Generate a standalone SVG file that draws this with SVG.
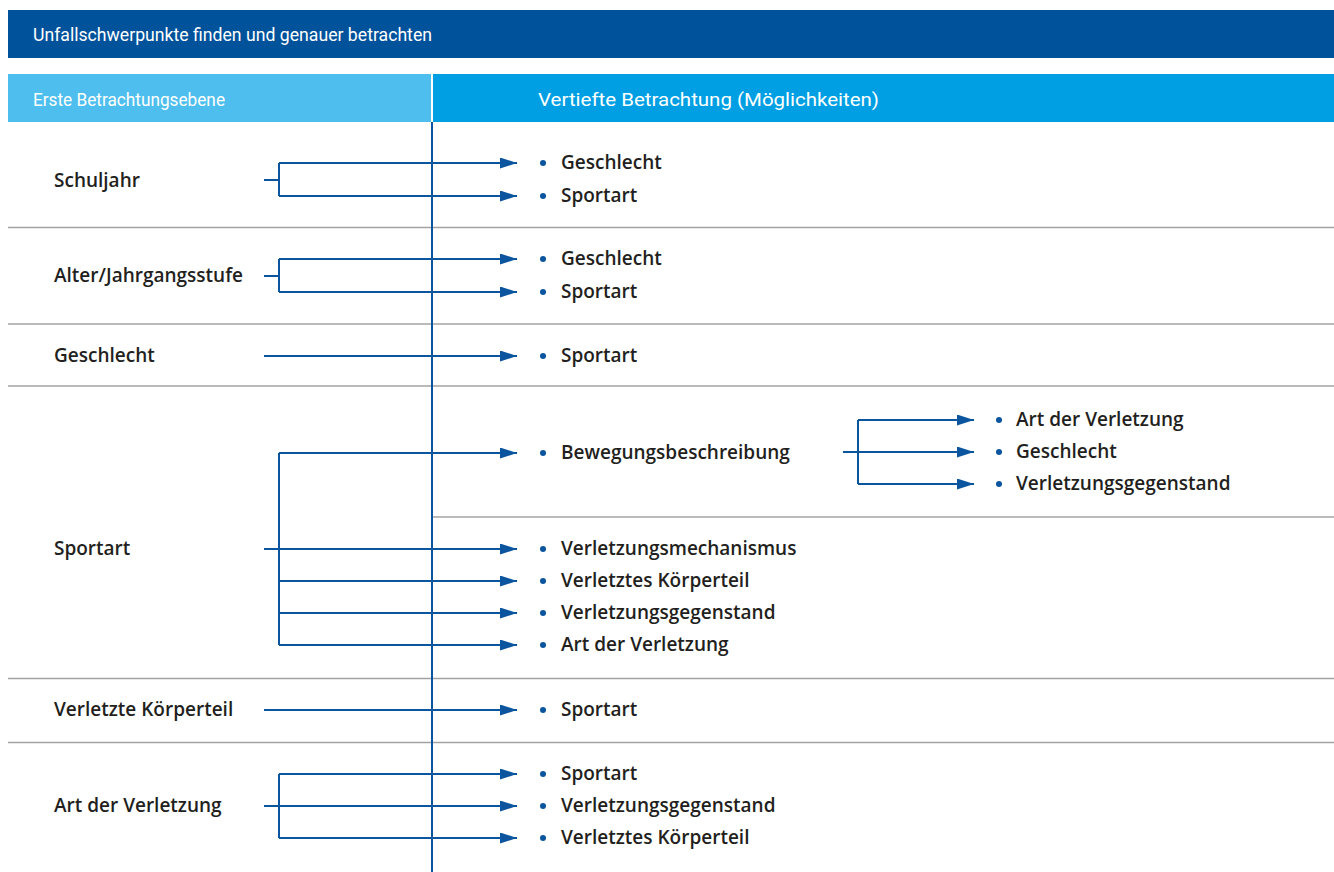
<svg xmlns="http://www.w3.org/2000/svg" width="1334" height="872" viewBox="0 0 1334 872">
<style>
.t{font-family:"Open Sans","Liberation Sans",sans-serif;font-weight:600;font-size:19px;fill:#231f20}
.h{font-family:Roboto,"Liberation Sans",sans-serif;font-weight:400;font-size:18px;fill:#ffffff}
.c{fill:none;stroke:#0b559f;stroke-width:2}
.a{marker-end:url(#arr)}
.sep{stroke:#a3a3a3;stroke-width:1.6}
.b{fill:#0b559f}
</style>
<defs>
<marker id="arr" markerUnits="userSpaceOnUse" markerWidth="18" markerHeight="12" refX="17" refY="5.5" orient="auto">
<path d="M0,0 L17,5.5 L0,11 z" fill="#0b559f"/>
</marker>
</defs>
<rect width="1334" height="872" fill="#ffffff"/>
<g id="header">
<rect x="8" y="10" width="1326" height="48" fill="#00529b"/>
<text class="h" x="33" y="41" textLength="399" lengthAdjust="spacingAndGlyphs">Unfallschwerpunkte finden und genauer betrachten</text>
</g>
<g id="colheads">
<rect x="8" y="74" width="423" height="48" fill="#4dbeed"/>
<rect x="433" y="74" width="901" height="48" fill="#009fe3"/>
<text class="h" x="33" y="106" textLength="192" lengthAdjust="spacingAndGlyphs">Erste Betrachtungsebene</text>
<text class="h" x="538" y="106" font-size="19.5" textLength="341" lengthAdjust="spacingAndGlyphs">Vertiefte Betrachtung (Möglichkeiten)</text>
</g>
<g id="separators">
<line class="sep" x1="8" y1="227.5" x2="1334" y2="227.5"/>
<line class="sep" x1="8" y1="324" x2="1334" y2="324"/>
<line class="sep" x1="8" y1="386" x2="1334" y2="386"/>
<line class="sep" x1="432" y1="517" x2="1334" y2="517"/>
<line class="sep" x1="8" y1="678.5" x2="1334" y2="678.5"/>
<line class="sep" x1="8" y1="742.5" x2="1334" y2="742.5"/>
</g>
<g id="connectors">
<line class="c" x1="432" y1="122" x2="432" y2="872"/>
<path class="c" d="M264,180 H279"/>
<path class="c" d="M279,163 V196"/>
<path class="c a" d="M279,163 H517"/>
<path class="c a" d="M279,196 H517"/>
<path class="c" d="M264,276 H279"/>
<path class="c" d="M279,259 V292"/>
<path class="c a" d="M279,259 H517"/>
<path class="c a" d="M279,292 H517"/>
<path class="c a" d="M264,356 H517"/>
<path class="c" d="M279,453 V645"/>
<path class="c a" d="M279,453 H517"/>
<path class="c a" d="M264,549 H517"/>
<path class="c a" d="M279,581 H517"/>
<path class="c a" d="M279,613 H517"/>
<path class="c a" d="M279,645 H517"/>
<path class="c" d="M858,420 V484"/>
<path class="c a" d="M858,420 H974"/>
<path class="c a" d="M843,452 H974"/>
<path class="c a" d="M858,484 H974"/>
<path class="c a" d="M264,710 H517"/>
<path class="c" d="M279,774 V838"/>
<path class="c a" d="M279,774 H517"/>
<path class="c a" d="M264,806 H517"/>
<path class="c a" d="M279,838 H517"/>
</g>
<g id="n-schuljahr">
<text class="t" x="54" y="187">Schuljahr</text>
<circle class="b" cx="543" cy="163" r="3"/><text class="t" x="561" y="169">Geschlecht</text>
<circle class="b" cx="543" cy="196" r="3"/><text class="t" x="561" y="202">Sportart</text>
</g>
<g id="n-alter">
<text class="t" x="54" y="282">Alter/Jahrgangsstufe</text>
<circle class="b" cx="543" cy="259" r="3"/><text class="t" x="561" y="265">Geschlecht</text>
<circle class="b" cx="543" cy="292" r="3"/><text class="t" x="561" y="298">Sportart</text>
</g>
<g id="n-geschlecht">
<text class="t" x="54" y="362">Geschlecht</text>
<circle class="b" cx="543" cy="356" r="3"/><text class="t" x="561" y="362">Sportart</text>
</g>
<g id="n-sportart">
<text class="t" x="54" y="555">Sportart</text>
<circle class="b" cx="543" cy="453" r="3"/><text class="t" x="561" y="459">Bewegungsbeschreibung</text>
<circle class="b" cx="543" cy="549" r="3"/><text class="t" x="561" y="555">Verletzungsmechanismus</text>
<circle class="b" cx="543" cy="581" r="3"/><text class="t" x="561" y="587">Verletztes Körperteil</text>
<circle class="b" cx="543" cy="613" r="3"/><text class="t" x="561" y="619">Verletzungsgegenstand</text>
<circle class="b" cx="543" cy="645" r="3"/><text class="t" x="561" y="651">Art der Verletzung</text>
</g>
<g id="n-bewegung">
<circle class="b" cx="999" cy="420" r="3"/><text class="t" x="1016" y="426">Art der Verletzung</text>
<circle class="b" cx="999" cy="452" r="3"/><text class="t" x="1016" y="458">Geschlecht</text>
<circle class="b" cx="999" cy="484" r="3"/><text class="t" x="1016" y="490">Verletzungsgegenstand</text>
</g>
<g id="n-koerperteil">
<text class="t" x="54" y="716">Verletzte Körperteil</text>
<circle class="b" cx="543" cy="710" r="3"/><text class="t" x="561" y="716">Sportart</text>
</g>
<g id="n-art">
<text class="t" x="54" y="812">Art der Verletzung</text>
<circle class="b" cx="543" cy="774" r="3"/><text class="t" x="561" y="780">Sportart</text>
<circle class="b" cx="543" cy="806" r="3"/><text class="t" x="561" y="812">Verletzungsgegenstand</text>
<circle class="b" cx="543" cy="838" r="3"/><text class="t" x="561" y="844">Verletztes Körperteil</text>
</g>
</svg>
